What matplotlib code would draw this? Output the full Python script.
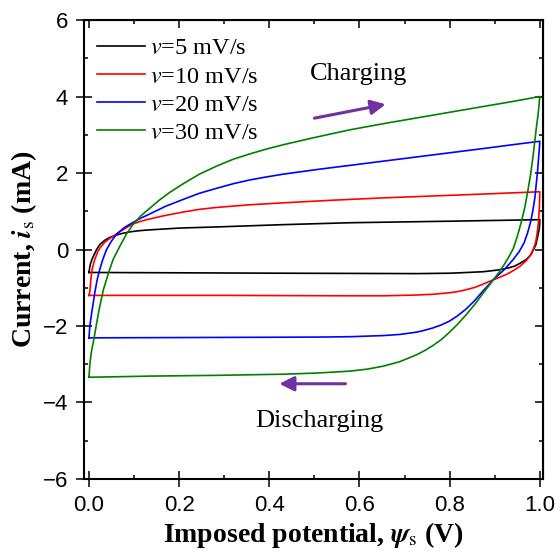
import matplotlib
matplotlib.use('Agg')
import matplotlib.pyplot as plt
from matplotlib.ticker import MultipleLocator

plt.rcParams['font.family'] = ['Liberation Serif', 'DejaVu Serif']
plt.rcParams['mathtext.fontset'] = 'stix'

# cyclic voltammograms, one closed loop per scan rate (charge branch then discharge branch)
pot_5 = [0.0, 0.002, 0.004, 0.007, 0.01, 0.017, 0.024, 0.035, 0.045, 0.054, 0.07, 0.09, 0.11,
         0.13, 0.2, 0.283, 0.431, 0.579, 0.8, 1.0,
         0.9995, 0.999, 0.997, 0.994, 0.991, 0.986, 0.98, 0.97, 0.956, 0.945, 0.934, 0.92,
         0.904, 0.875, 0.84, 0.8, 0.727, 0.431, 0.0]
cur_5 = [-0.6, -0.45, -0.35, -0.25, -0.17, 0.0, 0.13, 0.24, 0.31, 0.35, 0.41, 0.46, 0.49,
         0.51, 0.56, 0.59, 0.65, 0.7, 0.74, 0.78,
         0.65, 0.55, 0.44, 0.27, 0.12, 0.0, -0.14, -0.26, -0.36, -0.43, -0.47, -0.51,
         -0.54, -0.58, -0.6, -0.62, -0.63, -0.62, -0.6]

pot_10 = [0.0, 0.002, 0.004, 0.007, 0.01, 0.013, 0.02, 0.027, 0.035, 0.045, 0.054, 0.065,
          0.076, 0.087, 0.098, 0.113, 0.128, 0.165, 0.209, 0.245, 0.283, 0.357, 0.431, 0.542,
          0.653, 0.764, 0.875, 1.0,
          0.9995, 0.999, 0.998, 0.997, 0.994, 0.991, 0.986, 0.98, 0.97, 0.956, 0.94, 0.926,
          0.912, 0.897, 0.875, 0.856, 0.837, 0.818, 0.8, 0.764, 0.727, 0.653, 0.579, 0.3, 0.0]
cur_10 = [-1.2, -1.1, -0.8, -0.52, -0.38, -0.26, -0.04, 0.08, 0.19, 0.28, 0.35, 0.44,
          0.52, 0.6, 0.67, 0.73, 0.78, 0.88, 0.98, 1.05, 1.1, 1.17, 1.22, 1.29,
          1.35, 1.4, 1.45, 1.51,
          1.3, 1.1, 0.9, 0.7, 0.42, 0.2, 0.02, -0.13, -0.29, -0.44, -0.56, -0.65,
          -0.72, -0.79, -0.9, -0.99, -1.05, -1.1, -1.13, -1.17, -1.19, -1.21, -1.21, -1.2, -1.2]

pot_20 = [0.0, 0.002, 0.006, 0.013, 0.018, 0.024, 0.031, 0.039, 0.05, 0.061, 0.078, 0.098,
          0.115, 0.135, 0.17, 0.209, 0.245, 0.283, 0.32, 0.357, 0.395, 0.431, 0.505, 0.579,
          0.653, 0.727, 0.801, 0.875, 0.94, 1.0,
          0.999, 0.998, 0.995, 0.992, 0.989, 0.985, 0.98, 0.973, 0.965, 0.954, 0.941, 0.93,
          0.919, 0.908, 0.897, 0.886, 0.875, 0.856, 0.837, 0.818, 0.8, 0.782, 0.763, 0.745,
          0.727, 0.69, 0.653, 0.579, 0.505, 0.25, 0.0]
cur_20 = [-2.31, -2.0, -1.66, -1.13, -0.8, -0.52, -0.25, 0.0, 0.22, 0.4, 0.57, 0.71,
          0.82, 0.93, 1.13, 1.31, 1.47, 1.6, 1.72, 1.82, 1.9, 1.97, 2.09, 2.2,
          2.31, 2.42, 2.53, 2.64, 2.74, 2.83,
          2.65, 2.5, 2.05, 1.7, 1.35, 1.05, 0.74, 0.44, 0.17, -0.06, -0.26, -0.41,
          -0.55, -0.67, -0.79, -0.93, -1.07, -1.33, -1.55, -1.73, -1.87, -1.97, -2.05, -2.11,
          -2.16, -2.22, -2.25, -2.28, -2.29, -2.3, -2.31]

pot_30 = [0.0, 0.002, 0.005, 0.01, 0.016, 0.022, 0.032, 0.045, 0.054, 0.07, 0.084, 0.098,
          0.115, 0.135, 0.157, 0.18, 0.209, 0.245, 0.283, 0.32, 0.357, 0.395, 0.431, 0.468,
          0.505, 0.54, 0.579, 0.653, 0.727, 0.801, 0.875, 0.94, 1.0,
          0.998, 0.996, 0.993, 0.989, 0.985, 0.98, 0.974, 0.967, 0.959, 0.95, 0.941, 0.93,
          0.919, 0.908, 0.897, 0.886, 0.875, 0.856, 0.837, 0.818, 0.8, 0.782, 0.763, 0.745,
          0.727, 0.69, 0.653, 0.616, 0.579, 0.505, 0.431, 0.283, 0.135, 0.0]
cur_30 = [-3.34, -3.0, -2.7, -2.4, -2.0, -1.6, -1.05, -0.55, -0.25, 0.12, 0.42, 0.66,
          0.88, 1.08, 1.3, 1.5, 1.72, 1.97, 2.18, 2.36, 2.5, 2.63, 2.74, 2.84,
          2.94, 3.03, 3.13, 3.29, 3.44, 3.59, 3.74, 3.87, 4.0,
          3.75, 3.52, 3.25, 2.85, 2.44, 2.0, 1.57, 1.12, 0.72, 0.34, 0.02, -0.22,
          -0.43, -0.62, -0.79, -0.96, -1.13, -1.43, -1.7, -1.95, -2.16, -2.35, -2.51, -2.64,
          -2.75, -2.93, -3.05, -3.13, -3.18, -3.23, -3.26, -3.29, -3.31, -3.34]

labels = ['$\\it{v}$=5 mV/s', '$\\it{v}$=10 mV/s', '$\\it{v}$=20 mV/s', '$\\it{v}$=30 mV/s']
colors = ['black', '#ff0000', '#0000ff', '#008000']

fig = plt.figure(figsize=(5.6, 5.56), dpi=100)
ax = fig.add_axes([0.15, 0.1385, 0.8196, 0.8255])

for p, c, lab, col in zip([pot_5, pot_10, pot_20, pot_30], [cur_5, cur_10, cur_20, cur_30],
                          labels, colors):
    ax.plot(p, c, color=col, lw=1.2, label=lab)

ax.set_xlim(-0.011, 1.007)
ax.set_ylim(-6, 6)
ax.xaxis.set_major_locator(MultipleLocator(0.2))
ax.xaxis.set_minor_locator(MultipleLocator(0.1))
ax.yaxis.set_major_locator(MultipleLocator(2))
ax.yaxis.set_minor_locator(MultipleLocator(1))
ax.tick_params(which='major', direction='inout', length=11, width=1.1, pad=6, labelsize=16)
ax.tick_params(which='minor', direction='in', length=3.2, width=1.1)
ax.xaxis.set_major_formatter('{x:.1f}')
ax.yaxis.set_major_formatter('{x:.0f}')
for t in ax.get_xticklabels() + ax.get_yticklabels():
    t.set_fontfamily('Liberation Sans')
for s in ax.spines.values():
    s.set_linewidth(1.5)

# mirrored ticks on top and right, pointing inward
top = ax.secondary_xaxis('top')
top.xaxis.set_major_locator(MultipleLocator(0.2))
top.xaxis.set_minor_locator(MultipleLocator(0.1))
top.tick_params(which='major', direction='in', length=5.8, width=1.1, labeltop=False)
top.tick_params(which='minor', direction='in', length=3.2, width=1.1)
right = ax.secondary_yaxis('right')
right.yaxis.set_major_locator(MultipleLocator(2))
right.yaxis.set_minor_locator(MultipleLocator(1))
right.tick_params(which='major', direction='in', length=5.8, width=1.1, labelright=False)
right.tick_params(which='minor', direction='in', length=3.2, width=1.1)

ax.set_xlabel('Imposed potential, $\\mathbfit{\\psi}_{\\mathrm{s}}$ (V)', fontsize=20,
              fontweight='bold', labelpad=3)
ax.set_ylabel('Current, $\\mathbfit{i}_{\\mathrm{s}}$ (mA)', fontsize=20,
              fontweight='bold', labelpad=2.5)

arrow_col = '#7030a0'
ax.annotate('', xy=(0.664, 3.81), xytext=(0.494, 3.42),
            arrowprops=dict(arrowstyle='-|>', color=arrow_col, lw=2.2, mutation_scale=22))
ax.annotate('', xy=(0.416, -3.51), xytext=(0.575, -3.51),
            arrowprops=dict(arrowstyle='-|>', color=arrow_col, lw=2.2, mutation_scale=22))
ax.text(0.597, 4.58, 'Charging', fontsize=19, ha='center', va='center')
ax.text(0.512, -4.49, 'Discharging', fontsize=19, ha='center', va='center')

ax.legend(loc='upper left', bbox_to_anchor=(0.028, 0.962), frameon=False, fontsize=17.5,
          handlelength=2.0, handletextpad=0.2, labelspacing=0.25, borderpad=0, borderaxespad=0)

fig.savefig('out.png', dpi=100)
